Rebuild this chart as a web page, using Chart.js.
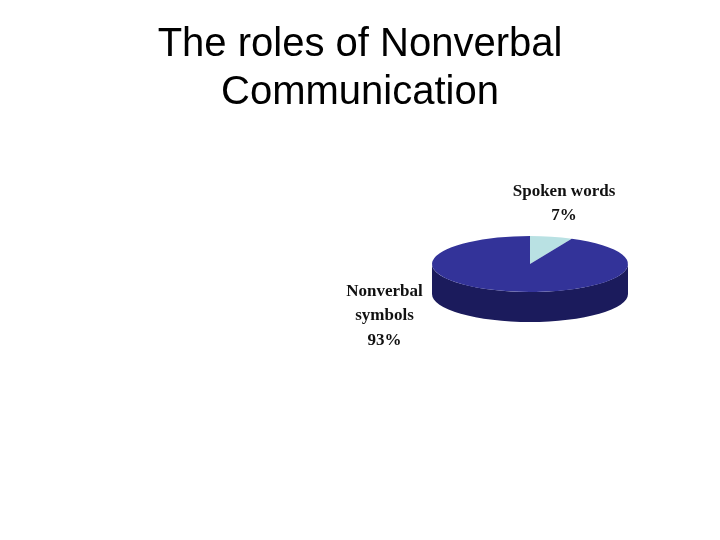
<!DOCTYPE html>
<html lang="en">
<head>
    <meta charset="UTF-8">
    <title>The roles of Nonverbal Communication</title>
    <script src="https://cdn.jsdelivr.net/npm/chart.js@4"></script>
    <style>
        html, body { margin: 0; padding: 0; background: #fff; }
        canvas { display: block; }
    </style>
</head>
<body>
    <canvas id="myChart" width="720" height="540"></canvas>
    <script>
        const titleLines = ['The roles of Nonverbal', 'Communication'];
        const categories = ['Spoken words', 'Nonverbal symbols'];
        const values = [7, 93];
        const labelLines = [['Spoken words', '7%'], ['Nonverbal', 'symbols', '93%']];
        const sliceColors = ['#b9e1e3', '#333399'];

        // the pie lies flat, so it is squashed and given a dark rim
        const SQUASH = 28 / 98;
        const DEPTH = 30;
        const SIDE_COLOR = '#1b1b5c';
        const PIE_AREA = { left: 432, right: 628, top: 166, bottom: 362 };
        const LABEL_POS = [{ x: 564, y: 191.5 }, { x: 384.5, y: 291.5 }];
        const LABEL_STEP = 24.5;

        const flatPie = {
            id: 'flatPie',
            afterLayout(chart) {
                const a = chart.chartArea;
                a.left = PIE_AREA.left;
                a.right = PIE_AREA.right;
                a.top = PIE_AREA.top;
                a.bottom = PIE_AREA.bottom;
                a.width = a.right - a.left;
                a.height = a.bottom - a.top;
            },
            beforeDatasetsDraw(chart) {
                const ctx = chart.ctx;
                const arc = chart.getDatasetMeta(0).data[0];
                const rx = arc.outerRadius;
                const ry = rx * SQUASH;

                // rim
                ctx.save();
                ctx.fillStyle = SIDE_COLOR;
                ctx.beginPath();
                ctx.ellipse(arc.x, arc.y + DEPTH, rx, ry, 0, 0, Math.PI);
                ctx.lineTo(arc.x - rx, arc.y);
                ctx.ellipse(arc.x, arc.y, rx, ry, 0, Math.PI, 0, true);
                ctx.lineTo(arc.x + rx, arc.y + DEPTH);
                ctx.fill();
                ctx.restore();

                ctx.save();
                ctx.translate(arc.x, arc.y);
                ctx.scale(1, SQUASH);
                ctx.translate(-arc.x, -arc.y);
            },
            afterDatasetsDraw(chart) {
                const ctx = chart.ctx;
                ctx.restore();

                ctx.save();
                ctx.fillStyle = '#111';
                ctx.font = 'bold 17px "Liberation Serif"';
                ctx.textAlign = 'center';
                ctx.textBaseline = 'middle';
                labelLines.forEach((lines, i) => {
                    lines.forEach((line, j) => {
                        ctx.fillText(line, LABEL_POS[i].x, LABEL_POS[i].y + j * LABEL_STEP);
                    });
                });
                ctx.restore();
            }
        };

        const ctx = document.getElementById('myChart').getContext('2d');
        new Chart(ctx, {
            type: 'pie',
            data: {
                labels: categories,
                datasets: [{
                    data: values,
                    backgroundColor: sliceColors,
                    borderWidth: 0
                }]
            },
            options: {
                responsive: false,
                animation: false,
                plugins: {
                    legend: { display: false },
                    tooltip: { enabled: false },
                    title: {
                        display: true,
                        text: titleLines,
                        color: '#000',
                        font: { family: '"Liberation Sans"', size: 40, weight: 'normal', lineHeight: 1.2 },
                        padding: { top: 21, bottom: 0 }
                    }
                }
            },
            plugins: [flatPie]
        });
    </script>
</body>
</html>
